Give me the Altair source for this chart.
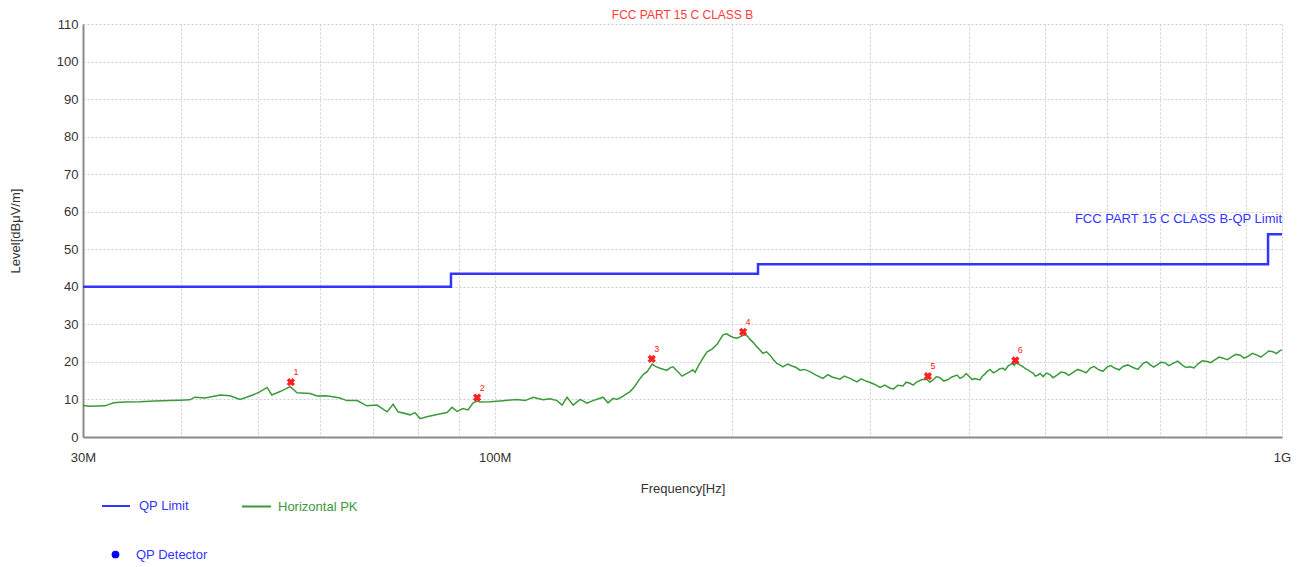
import altair as alt
import pandas as pd

# ---- data ----
trace_freq_mhz = [30.0, 30.6, 32.0, 32.8, 33.9, 35.4, 37.0, 38.7, 39.8, 41.0, 41.6, 42.9, 44.8, 46.1,
                  47.5, 49.3, 50.3, 51.4, 52.1, 53.4, 55.0, 56.1, 58.3, 59.5, 60.9, 62.3, 63.6, 64.9,
                  66.9, 68.8, 70.9, 73.0, 74.3, 75.4, 78.1, 79.2, 80.4, 82.0, 84.5, 87.0, 88.3, 89.6,
                  91.1, 92.5, 93.9, 95.0, 95.8, 98.7, 101.6, 104.0, 106.7, 109.3, 111.9, 115.2, 117.6,
                  120.0, 121.8, 123.6, 125.8, 128.4, 131.0, 133.3, 137.3, 139.3, 141.4, 145.6, 148.6,
                  153.0, 156.2, 158.5, 162.2, 165.6, 168.5, 173.0, 177.1, 179.7, 183.9, 188.8, 195.0,
                  199.1, 203.2, 207.9, 211.0, 215.3, 219.1, 223.7, 228.3, 232.3, 238.6, 244.2, 251.4,
                  261.1, 268.2, 274.5, 282.6, 288.5, 295.4, 299.7, 308.6, 317.8, 325.3, 330.1, 336.9,
                  343.9, 354.1, 360.4, 367.8, 376.5, 386.6, 393.4, 401.5, 407.5, 413.4, 419.6, 425.8,
                  434.6, 442.3, 448.8, 454.1, 459.4, 469.0, 475.8, 482.9, 489.9, 497.2, 507.5, 518.0,
                  530.2, 542.8, 557.2, 570.5, 584.0, 599.6, 613.8, 628.3, 646.9, 666.1, 679.9, 694.0,
                  710.4, 727.3, 746.7, 764.4, 782.4, 803.4, 822.4, 841.6, 864.1, 884.6, 905.6, 929.6,
                  951.5, 974.1, 994.3, 1000.0]
trace_level = [8.4, 8.2, 8.3, 9.1, 9.3, 9.4, 9.6, 9.7, 9.8, 9.9, 10.6, 10.4, 11.2, 11.0,
               10.0, 11.2, 12.0, 13.2, 11.2, 12.1, 13.4, 11.8, 11.6, 10.9, 11.0, 10.7, 10.4, 9.7,
               9.7, 8.3, 8.5, 6.7, 8.7, 6.7, 5.9, 6.5, 4.9, 5.4, 6.0, 6.5, 7.9, 6.8,
               7.6, 7.2, 9.1, 9.6, 9.3, 9.4, 9.6, 9.8, 10.0, 9.7, 10.6, 9.9, 10.2,
               9.7, 8.5, 10.6, 8.5, 10.0, 9.0, 9.7, 10.6, 9.1, 10.3, 10.9, 12.1,
               15.6, 17.4, 19.4, 18.3, 17.8, 18.7, 16.2, 17.4, 17.2, 21.0, 23.4, 27.2,
               26.9, 26.3, 27.3, 26.0, 24.0, 22.3, 21.8, 19.6, 18.7, 18.9, 17.8, 17.4,
               15.6, 16.0, 15.4, 15.6, 14.7, 15.0, 14.5, 13.2, 13.0, 13.8, 13.6, 14.3,
               14.7, 15.4, 15.2, 15.8, 15.3, 16.5, 16.0, 15.9, 15.6, 15.2, 16.8, 18.0,
               17.6, 18.3, 18.9, 19.6, 19.8, 18.7, 17.9, 17.0, 16.5, 16.1, 16.6, 16.5,
               17.1, 17.2, 17.6, 18.3, 18.0, 18.6, 18.3, 18.8, 18.5, 19.6, 19.3, 19.2,
               19.8, 19.6, 19.2, 18.7, 19.5, 20.1, 20.6, 21.0, 21.4, 21.8, 21.5, 21.8,
               22.1, 22.7, 23.0, 23.2]

# extra samples of the noisy part of the trace
trace_extra_freq_mhz = [143, 147, 150.5, 154.5, 160, 164, 167, 170.5, 175, 178.5, 181.5, 186, 191.5,
                        197, 201, 205.5, 209.5, 213, 217, 221.5, 226, 230, 235.5, 241.5, 247.5,
                        256, 265, 278, 292, 304, 313, 321, 333, 340, 349, 357, 364, 372, 381, 390,
                        397, 404, 416, 422, 430, 438, 445, 451, 457, 464, 472, 479, 486, 493,
                        502, 512, 524, 536, 550, 564, 577, 592, 606, 621, 637, 656, 673, 687, 702,
                        718, 737, 755, 773, 792, 812, 832, 852, 874, 895, 917, 940, 962, 984]
trace_extra_level = [10.0, 11.5, 13.4, 16.7, 18.8, 18.0, 18.4, 17.6, 16.8, 17.9, 19.0, 22.6, 24.6,
                     27.5, 26.5, 26.8, 26.8, 25.2, 23.3, 22.7, 20.6, 19.3, 19.4, 18.5, 18.0,
                     16.5, 16.6, 16.2, 15.5, 14.0, 13.8, 12.8, 14.6, 13.8, 15.3, 14.6, 16.1, 14.9,
                     16.0, 15.6, 16.9, 15.3, 16.1, 17.4, 17.1, 18.2, 17.8, 19.2, 19.1, 19.3, 18.2,
                     17.4, 16.2, 16.9,
                     17.0, 15.8, 17.3, 16.4, 18.0, 17.1, 18.8, 17.5, 19.0, 17.9, 19.2, 18.0, 20.0,
                     18.6, 19.9, 19.0, 20.2, 18.5, 18.4, 20.3, 19.8, 21.3, 20.6, 22.0, 21.0, 22.3,
                     21.3, 22.9, 22.2]

limit_freq_mhz = [30, 88, 216, 960, 1000]
limit_level = [40, 43.5, 46, 54, 54]

marker_freq_mhz = [55.1, 95.0, 158.3, 206.8, 355.0, 458.5]
marker_level = [14.6, 10.5, 20.8, 28.0, 16.2, 20.4]
marker_id = ["1", "2", "3", "4", "5", "6"]

x_ticks = [30, 40, 50, 60, 70, 80, 90, 100, 200, 300, 400, 500, 600, 700, 800, 900, 1000]
y_ticks = list(range(0, 111, 10))

chart_title = "FCC PART 15 C CLASS B"
limit_label = "FCC PART 15 C CLASS B-QP Limit"
limit_label_freq = [1000]
limit_label_level = [58]

BLUE = "#3434ff"
GREEN = "#3a9a3a"
RED = "#ff2020"
FONT = "Liberation Sans"

trace_df = pd.concat([
    pd.DataFrame({"f": trace_freq_mhz, "lvl": trace_level}),
    pd.DataFrame({"f": trace_extra_freq_mhz, "lvl": trace_extra_level}),
]).sort_values("f").reset_index(drop=True)
trace_df["s"] = "Horizontal PK"
limit_df = pd.DataFrame({"f": limit_freq_mhz, "lvl": limit_level, "s": "QP Limit"})
marker_df = pd.DataFrame({"f": marker_freq_mhz, "lvl": marker_level, "id": marker_id, "d": "QP Detector"})
label_df = pd.DataFrame({"f": limit_label_freq, "lvl": limit_label_level, "t": [limit_label]})

xscale = alt.Scale(type="log", domain=[30, 1000], nice=False)
yscale = alt.Scale(domain=[0, 110], nice=False)

xaxis = alt.Axis(
    title="Frequency[Hz]", values=x_ticks,
    labelExpr="datum.value == 30 ? '30M' : datum.value == 100 ? '100M' : datum.value == 1000 ? '1G' : ''",
    labelFlush=False, labelOverlap=False, labelBound=False, ticks=False, labelPadding=14,
    titlePadding=18, grid=True,
)
yaxis = alt.Axis(title="Level[dBμV/m]", values=y_ticks, tickCount=12, ticks=False, labelPadding=5,
                 labelOverlap=False, titlePadding=34, grid=True)

X = alt.X("f:Q", scale=xscale, axis=xaxis)
Y = alt.Y("lvl:Q", scale=yscale, axis=yaxis)

limit = alt.Chart(limit_df).mark_line(interpolate="step-after", strokeWidth=2.5).encode(
    x=X, y=Y,
    stroke=alt.Stroke("s:N", scale=alt.Scale(domain=["QP Limit"], range=[BLUE]),
                      legend=alt.Legend(title=None, orient="none", legendX=18, legendY=467,
                                        symbolType="stroke", symbolSize=784, symbolStrokeWidth=2,
                                        labelColor=BLUE, labelFontSize=13, labelOffset=8, labelFont=FONT)),
)

trace = alt.Chart(trace_df).mark_line(strokeWidth=1.5).encode(
    x=X, y=Y,
    color=alt.Color("s:N", scale=alt.Scale(domain=["Horizontal PK"], range=[GREEN]),
                    legend=alt.Legend(title=None, orient="none", legendX=158, legendY=467,
                                      symbolType="stroke", symbolSize=841, symbolStrokeWidth=2,
                                      labelColor=GREEN, labelFontSize=13, labelOffset=6, labelFont=FONT)),
)

markers = alt.Chart(marker_df).mark_point(shape="cross", angle=45, filled=True, color=RED,
                                          size=70, opacity=1).encode(x=X, y=Y)

marker_text = alt.Chart(marker_df).mark_text(color=RED, fontSize=9, dx=5, dy=-10, font=FONT).encode(
    x=X, y=Y, text="id:N")

legend_host = alt.Chart(marker_df).mark_point(filled=True, color="#0000ff").encode(
    x=X, y=Y,
    opacity=alt.Opacity("d:N", scale=alt.Scale(domain=["QP Detector"], range=[1]),
                        legend=alt.Legend(title=None, orient="none", legendX=26, legendY=524,
                                          symbolType="circle", symbolSize=60,
                                          symbolFillColor="#0000ff", symbolStrokeColor="#0000ff",
                                          labelColor=BLUE, labelFontSize=13, labelOffset=14, labelFont=FONT)),
).transform_filter("false")

label = alt.Chart(label_df).mark_text(
    align="right", baseline="middle", color=BLUE, fontSize=13, font=FONT
).encode(x=X, y=Y, text="t:N")

chart = alt.layer(limit, trace, markers, marker_text, legend_host, label).resolve_legend(
    stroke="independent", color="independent", opacity="independent"
).properties(
    width=1199, height=413,
    autosize="none",
    background="white",
    padding={"left": 75, "top": 16, "right": 15, "bottom": 128},
    title=alt.TitleParams(chart_title, color="#ff3b3b", fontSize=12, fontWeight="normal",
                          font=FONT, anchor="middle", offset=3, dy=7),
).configure_axis(
    labelFont=FONT, titleFont=FONT, labelFontSize=13, titleFontSize=13,
    labelColor="#333333", titleColor="#333333", titleFontWeight="normal",
    gridColor="#cfcfcf", gridDash=[2, 2], gridWidth=1,
    domainColor="#8a8a8a", domainWidth=2,
).configure_view(stroke=None)

chart.save("out.html", embed_options={"renderer": "svg", "actions": False})
